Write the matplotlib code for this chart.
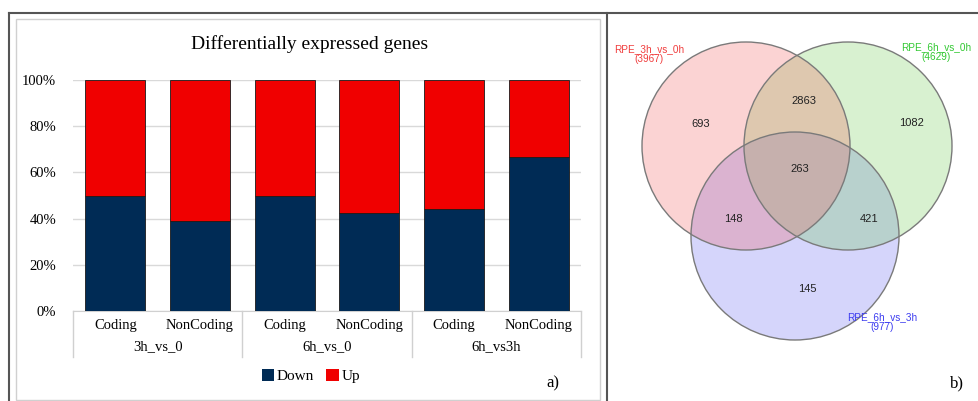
import numpy as np
import matplotlib
matplotlib.use('Agg')
import matplotlib.pyplot as plt
from matplotlib.patches import Circle, Patch

## bar chart data (fraction of DE genes down / up)
categories = ['Coding', 'NonCoding', 'Coding', 'NonCoding', 'Coding', 'NonCoding']
groups = ['3h_vs_0', '6h_vs_0', '6h_vs3h']
down = np.array([0.50, 0.39, 0.497, 0.425, 0.44, 0.667])
up = 1.0 - down

## venn data
set_names = ['RPE_3h_vs_0h', 'RPE_6h_vs_0h', 'RPE_6h_vs_3h']
set_totals = [3967, 4629, 977]
set_colors = ['#f05050', '#64c846', '#5a5af0']
set_text_colors = ['#f03c3c', '#32c832', '#3c3cf0']
# A only, A&B, B only, A&B&C, A&C, B&C, C only
region_counts = [693, 2863, 1082, 263, 148, 421, 145]

W, H = 979, 401
fig = plt.figure(figsize=(W / 100, H / 100), dpi=100)

## background overlay in pixel coords (frames + venn)
bg = fig.add_axes([0, 0, 1, 1])
bg.set_xlim(0, W)
bg.set_ylim(H, 0)
bg.axis('off')

bg.plot([9, W], [13, 13], color='#555555', lw=1.5)
bg.plot([9, 9], [13, H], color='#555555', lw=1.5)
bg.plot([607, 607], [13, H], color='#555555', lw=1.5)
bg.add_patch(plt.Rectangle((16, 19), 584, 381, fill=False, ec='#d0d0d0', lw=1))

centers = [(746, 146), (848, 146), (795, 236)]
r = 104
# draw blue, then green, then red so the overlaps blend like the original
for i in [2, 1, 0]:
    bg.add_patch(Circle(centers[i], r, facecolor=set_colors[i], alpha=0.25, edgecolor='none'))
for c in centers:
    bg.add_patch(Circle(c, r, facecolor='none', edgecolor='#7a7a7a', lw=1))

region_pos = [(701, 124), (804, 101), (912, 123), (800, 169), (733, 219), (869, 219), (807, 289)]
for (x, y), n in zip(region_pos, region_counts):
    bg.text(x, y, str(n), ha='center', va='center', fontsize=8,
            family='Liberation Sans', color='#222222')

label_pos = [(649, 54), (936, 52), (882, 322)]
for (x, y), name, tot, c in zip(label_pos, set_names, set_totals, set_text_colors):
    bg.text(x, y, '%s\n(%d)' % (name, tot), ha='center', va='center', fontsize=7.2,
            family='Liberation Sans', color=c, linespacing=1.0)

bg.text(553, 383, 'a)', ha='center', va='center', fontsize=12, family='Liberation Serif')
bg.text(957, 383, 'b)', ha='center', va='center', fontsize=12, family='Liberation Serif')
bg.text(310, 44, 'Differentially expressed genes', ha='center', va='center',
        fontsize=14, family='Liberation Serif')

## stacked bar chart
ax = fig.add_axes([73 / W, 1 - 311 / H, 508 / W, 231 / H])
ax.patch.set_alpha(0)
x = np.arange(len(categories))
navy = '#002b55'
red = '#f00000'
ax.bar(x, down, width=0.71, color=navy, edgecolor='#1a1a1a', lw=0.6, zorder=3)
ax.bar(x, up, width=0.71, bottom=down, color=red, edgecolor='#1a1a1a', lw=0.6, zorder=3)
ax.set_xlim(-0.5, len(categories) - 0.5)
ax.set_ylim(0, 1)
ax.set_yticks(np.arange(0, 1.01, 0.2))
ax.set_yticklabels(['%d%%' % round(v * 100) for v in np.arange(0, 1.01, 0.2)],
                   family='Liberation Serif', fontsize=10.5)
ax.yaxis.grid(True, color='#d9d9d9', lw=1, zorder=0)
ax.tick_params(axis='y', length=0, pad=12)
for s in ['top', 'right', 'left']:
    ax.spines[s].set_visible(False)
ax.spines['bottom'].set_color('#d0d0d0')
ax.set_xticks(x)
ax.set_xticklabels(categories, family='Liberation Serif', fontsize=10.5)
ax.tick_params(axis='x', length=0, pad=6)

trans = ax.get_xaxis_transform()
for i, g in enumerate(groups):
    ax.text(2 * i + 0.5, -0.155, g, transform=trans, ha='center', va='center',
            family='Liberation Serif', fontsize=10.5)
for b in [-0.5, 1.5, 3.5, 5.5]:
    ax.plot([b, b], [0, -0.2], transform=trans, color='#d0d0d0', lw=1, clip_on=False)

handles = [Patch(facecolor=navy, edgecolor='none'), Patch(facecolor=red, edgecolor='none')]
fig.legend(handles, ['Down', 'Up'], loc='center', bbox_to_anchor=(311 / W, 1 - 376 / H),
           ncol=2, frameon=False, handlelength=0.8, handleheight=0.8, handletextpad=0.2,
           columnspacing=0.8, prop={'family': 'Liberation Serif', 'size': 11})

fig.savefig('out.png', dpi=100)
